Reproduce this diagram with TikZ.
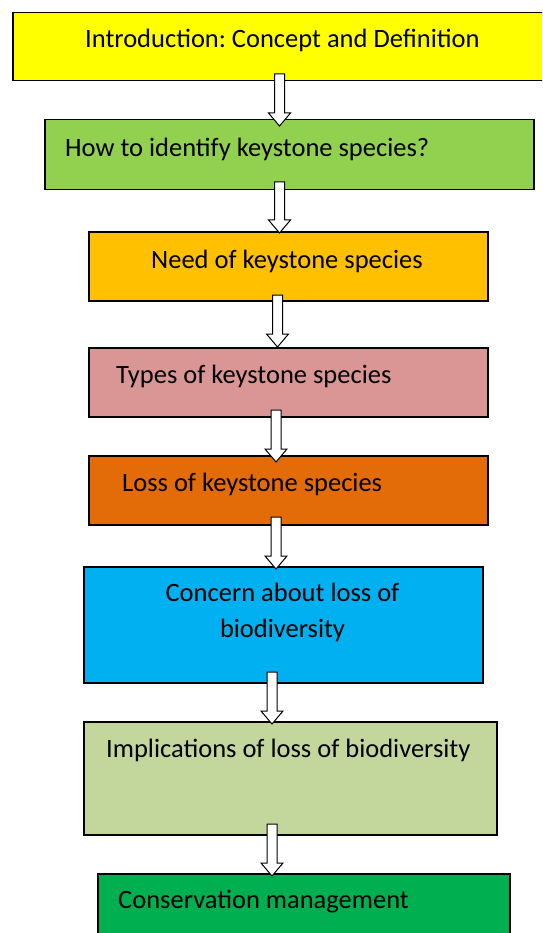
\documentclass[tikz,border=0pt]{standalone}
\usepackage{fontspec}
\setmainfont{Carlito}
\usetikzlibrary{calc}
\frenchspacing
\definecolor{cyel}{HTML}{FFFF00}
\definecolor{cgrn}{HTML}{92D050}
\definecolor{camb}{HTML}{FFC000}
\definecolor{cpnk}{HTML}{DA9694}
\definecolor{corg}{HTML}{E36C09}
\definecolor{cblu}{HTML}{00B0F0}
\definecolor{colv}{HTML}{C3D69B}
\definecolor{cdgr}{HTML}{00B050}
\tikzset{
  box/.style={draw=black, line width=1.5pt, rectangle, inner sep=0pt, anchor=north west},
  txt/.style={inner sep=0pt, font=\fontsize{26.5}{37}\selectfont, text=black},
  barrow/.style={draw=black, fill=white, line width=1pt, line join=miter}
}
\newcommand\blockarrow[2]{%
  \draw[barrow] ($(#1)+(-5,0)$) -- ($(#2)+(-5,-13)$) -- ($(#2)+(-11,-13)$) -- (#2)
    -- ($(#2)+(11,-13)$) -- ($(#2)+(5,-13)$) -- ($(#1)+(5,0)$) -- cycle;}
\begin{document}
\begin{tikzpicture}[x=1pt,y=-1pt]
\useasboundingbox (0,0) rectangle (542,933);
\clip (0,0) rectangle (542,933);
% boxes
\node[box, fill=cyel, minimum width=538, minimum height=68] (b1) at (12,12) {};
\node[box, fill=cgrn, minimum width=489, minimum height=70] (b2) at (44,119) {};
\node[box, fill=camb, minimum width=399, minimum height=69] (b3) at (88,231) {};
\node[box, fill=cpnk, minimum width=399, minimum height=69] (b4) at (88,347) {};
\node[box, fill=corg, minimum width=399, minimum height=69] (b5) at (88,455) {};
\node[box, fill=cblu, minimum width=399, minimum height=116] (b6) at (83,566) {};
\node[box, fill=colv, minimum width=413, minimum height=113] (b7) at (83,721) {};
\node[box, fill=cdgr, minimum width=412, minimum height=80] (b8) at (97,873) {};
% texts
\node[txt, anchor=base west] (t1) at (85,48) {Introduction: Concept and Definition};
\node[txt, anchor=base west] (t2) at (65,157) {How to identify keystone species?};
\node[txt, anchor=base west] (t3) at (151,268) {Need of keystone species};
\node[txt, anchor=base west] (t4) at (116,383) {Types of keystone species};
\node[txt, anchor=base west] (t5) at (122,491) {Loss of keystone species};
\node[txt, anchor=base] (t6a) at (282.5,601) {Concern about loss of};
\node[txt, anchor=base] (t6b) at (282.5,637) {biodiversity};
\node[txt, anchor=base west] (t7) at (106,757) {Implications of loss of biodiversity};
\node[txt, anchor=base west] (t8) at (118,908) {Conservation management};
% arrow coordinates
\coordinate (a1s) at (279.5,74);  \coordinate (a1e) at (279.5,126);
\coordinate (a2s) at (279.5,182); \coordinate (a2e) at (279.5,233);
\coordinate (a3s) at (277.5,295); \coordinate (a3e) at (277.5,347);
\coordinate (a4s) at (276,410);   \coordinate (a4e) at (276,462);
\coordinate (a5s) at (276,517);   \coordinate (a5e) at (276,569);
\coordinate (a6s) at (272,672);   \coordinate (a6e) at (272,724);
\coordinate (a7s) at (272,824);   \coordinate (a7e) at (272,876);
\blockarrow{a1s}{a1e}
\blockarrow{a2s}{a2e}
\blockarrow{a3s}{a3e}
\blockarrow{a4s}{a4e}
\blockarrow{a5s}{a5e}
\blockarrow{a6s}{a6e}
\blockarrow{a7s}{a7e}
\end{tikzpicture}
\end{document}
